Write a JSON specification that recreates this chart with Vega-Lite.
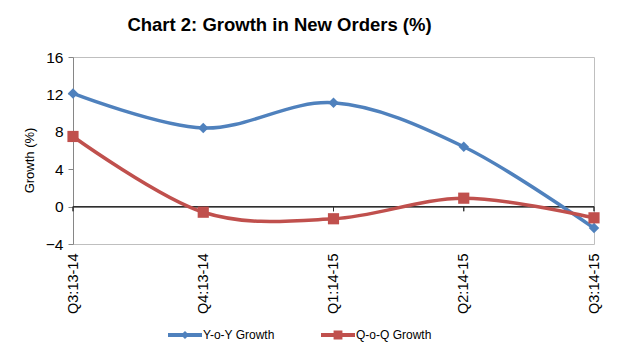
{
  "$schema": "https://vega.github.io/schema/vega-lite/v6.json",
  "width": 521,
  "height": 187,
  "autosize": {"type": "none"},
  "padding": {"left": 73, "top": 57, "right": 30, "bottom": 115},
  "background": "white",
  "config": {
    "font": "Liberation Sans",
    "view": {"stroke": "#BFBFBF", "strokeWidth": 1}
  },
  "title": {
    "text": "Chart 2: Growth in New Orders (%)",
    "fontSize": 18.5,
    "fontWeight": "bold",
    "font": "Liberation Sans",
    "color": "#000000",
    "anchor": "middle",
    "dx": -54,
    "offset": 16
  },
  "data": {
    "values": [
      {"q": "Q3:13-14", "series": "Y-o-Y Growth", "v": 12.1},
      {"q": "Q4:13-14", "series": "Y-o-Y Growth", "v": 8.4},
      {"q": "Q1:14-15", "series": "Y-o-Y Growth", "v": 11.1},
      {"q": "Q2:14-15", "series": "Y-o-Y Growth", "v": 6.4},
      {"q": "Q3:14-15", "series": "Y-o-Y Growth", "v": -2.3},
      {"q": "Q3:13-14", "series": "Q-o-Q Growth", "v": 7.5},
      {"q": "Q4:13-14", "series": "Q-o-Q Growth", "v": -0.6},
      {"q": "Q1:14-15", "series": "Q-o-Q Growth", "v": -1.3},
      {"q": "Q2:14-15", "series": "Q-o-Q Growth", "v": 0.9},
      {"q": "Q3:14-15", "series": "Q-o-Q Growth", "v": -1.2}
    ]
  },
  "encoding": {
    "x": {
      "field": "q",
      "type": "ordinal",
      "sort": ["Q3:13-14", "Q4:13-14", "Q1:14-15", "Q2:14-15", "Q3:14-15"],
      "scale": {"type": "point", "padding": 0},
      "axis": {
        "title": null,
        "labelAngle": -90,
        "labelFontSize": 14.5,
        "labelColor": "#000000",
        "labelFont": "Liberation Sans",
        "labelPadding": 9,
        "ticks": false,
        "domain": false
      }
    },
    "y": {
      "field": "v",
      "type": "quantitative",
      "scale": {"domain": [-4, 16], "nice": false},
      "axis": {
        "title": "Growth (%)",
        "titleFontSize": 13,
        "titleFontWeight": "normal",
        "titleFont": "Liberation Sans",
        "titleColor": "#000000",
        "titlePadding": 9,
        "titleY": 103,
        "values": [-4, 0, 4, 8, 12, 16],
        "labelOverlap": false,
        "labelFontSize": 15.5,
        "labelColor": "#000000",
        "labelFont": "Liberation Sans",
        "grid": false,
        "domainColor": "#868686",
        "tickColor": "#868686",
        "tickSize": 5,
        "labelPadding": 5
      }
    },
    "color": {
      "field": "series",
      "type": "nominal",
      "scale": {"domain": ["Y-o-Y Growth", "Q-o-Q Growth"], "range": ["#4F81BD", "#C0504D"]},
      "legend": {
        "title": null,
        "orient": "none",
        "direction": "horizontal",
        "legendX": 95,
        "legendY": 261,
        "symbolSize": 1156,
        "symbolStrokeWidth": 0,
        "labelFontSize": 12,
        "labelFont": "Liberation Sans",
        "labelColor": "#000000",
        "columnPadding": 46,
        "labelOffset": 1
      }
    }
  },
  "layer": [
    {
      "mark": {"type": "rule", "color": "#303030", "strokeWidth": 1},
      "encoding": {"x": null, "y": {"datum": 0, "type": "quantitative"}, "color": null}
    },
    {
      "mark": {"type": "rule", "color": "#303030", "strokeWidth": 1},
      "encoding": {
        "y": {"datum": 0, "type": "quantitative"},
        "y2": {"datum": -0.5},
        "color": null
      }
    },
    {
      "mark": {"type": "line", "interpolate": "cardinal", "tension": 0, "strokeWidth": 3.5}
    },
    {
      "transform": [{"filter": "datum.series == 'Y-o-Y Growth'"}],
      "mark": {"type": "point", "shape": "diamond", "filled": true, "opacity": 1, "size": 110}
    },
    {
      "transform": [{"filter": "datum.series == 'Q-o-Q Growth'"}],
      "mark": {"type": "point", "shape": "square", "filled": true, "opacity": 1, "size": 125}
    },
    {
      "transform": [{"filter": "datum.v > 1000"}],
      "mark": {"type": "point", "filled": true, "opacity": 1, "size": 1156},
      "encoding": {
        "shape": {
          "field": "series",
          "type": "nominal",
          "scale": {
            "domain": ["Y-o-Y Growth", "Q-o-Q Growth"],
            "range": [
              "M-1,-0.12H1V0.12H-1Z M0,-0.24L0.24,0L0,0.24L-0.24,0Z",
              "M-1,-0.12H1V0.12H-1Z M-0.26,-0.26H0.26V0.26H-0.26Z"
            ]
          },
          "legend": {
            "title": null,
            "orient": "none",
            "direction": "horizontal",
            "legendX": 95,
            "legendY": 261,
            "symbolSize": 1156,
            "symbolStrokeWidth": 0,
            "labelFontSize": 12,
            "labelFont": "Liberation Sans",
            "labelColor": "#000000",
            "columnPadding": 46,
            "labelOffset": 1
          }
        }
      }
    }
  ]
}
